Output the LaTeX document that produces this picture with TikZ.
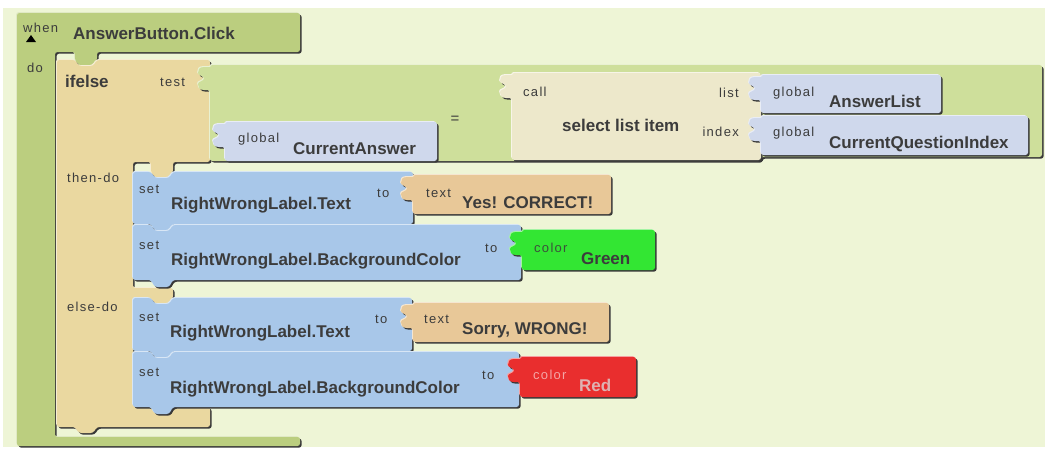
\documentclass[tikz,border=0pt]{standalone}
\usepackage{fontspec}
\setmainfont{Liberation Sans}
\newfontfamily\smallf[LetterSpace=10]{Liberation Sans}

\definecolor{canvas}{RGB}{238,245,214}
\definecolor{evgreen}{RGB}{187,206,127}
\definecolor{eqgreen}{RGB}{206,223,155}
\definecolor{iftan}{RGB}{234,216,160}
\definecolor{setblue}{RGB}{168,199,233}
\definecolor{globlue}{RGB}{207,216,236}
\definecolor{listcream}{RGB}{237,232,203}
\definecolor{txttan}{RGB}{232,200,152}
\definecolor{brightgreen}{RGB}{51,230,51}
\definecolor{brightred}{RGB}{233,46,46}
\definecolor{ink}{RGB}{60,60,60}
\definecolor{pinklbl}{RGB}{244,165,165}
\definecolor{redlbl}{RGB}{222,178,178}
\definecolor{greenlbl}{RGB}{60,80,60}

% bevelled block: dark lower-right edge, light upper-left edge, then the body
\newcommand\bfill[2]{%
  \fill[rounded corners=2.5pt, black!78, shift={(1.6pt,-1.6pt)}] #2;
  \fill[rounded corners=2.5pt, #1!45!white, shift={(-0.9pt,0.9pt)}] #2;
  \fill[rounded corners=2.5pt, #1] #2;
}
% puzzle plug on the left edge of a value block (left x, top y)
\newcommand\plugpath[2]{-- ({#1},{#2+25}) [sharp corners] -- ({#1-6},{#2+25})
  .. controls ({#1-11},{#2+25}) and ({#1-12},{#2+22}) .. ({#1-12},{#2+19})
  .. controls ({#1-12},{#2+16}) and ({#1-6},{#2+16.5}) .. ({#1-6},{#2+13.5})
  .. controls ({#1-6},{#2+10.5}) and ({#1-12},{#2+11}) .. ({#1-12},{#2+8})
  .. controls ({#1-12},{#2+5}) and ({#1-11},{#2+2}) .. ({#1-6},{#2+2})}
% value block: left, top, right, bottom
\newcommand\valpath[4]{({#1},{#2+2}) -- ({#1},{#2}) -- ({#3},{#2}) -- ({#3},{#4}) -- ({#1},{#4}) \plugpath{#1}{#2} -- cycle}
% statement block with top notch and bottom tab: left, top, right, bottom
\newcommand\stmtpath[4]{({#1},{#2}) -- ({#1+18},{#2}) -- ({#1+22},{#2+6}) -- ({#1+36},{#2+6}) -- ({#1+40},{#2}) -- ({#3},{#2}) -- ({#3},{#4}) -- ({#1+40},{#4}) -- ({#1+36},{#4+7}) -- ({#1+22},{#4+7}) -- ({#1+18},{#4}) -- ({#1},{#4}) -- cycle}

\tikzset{
  lsm/.style={font=\smallf\fontsize{13}{13}\selectfont, text=ink, inner sep=0pt, anchor=base west},
  lbig/.style={font=\bfseries\fontsize{17}{17}\selectfont, text=ink, inner sep=0pt, anchor=base west},
}

\begin{document}
\begin{tikzpicture}[x=1pt,y=-1pt]
\useasboundingbox (0,0) rectangle (1047,450);
\fill[white] (0,0) rectangle (1047,450);
\fill[canvas] (3,8) rectangle (1045,447);

% event handler
\bfill{evgreen}{(17,13) -- (300,13) -- (300,52) -- (97,52) -- (97,60) -- (93,66) -- (79,66) -- (75,60) -- (75,52) -- (55,52) -- (55,437) -- (300,437) -- (300,446) -- (17,446) -- cycle}
\fill[black] (26,42) -- (36,42) -- (31,35) -- cycle;

% ifelse
\bfill{iftan}{(57,60) -- (75,60) -- (79,66) -- (93,66) -- (97,60) -- (210,60) -- (210,162) -- (173,162) -- (173,172) -- (169,178) -- (155,178) -- (151,172) -- (151,162) -- (133,162) -- (133,288) -- (173,288) -- (173,298) -- (169,304) -- (155,304) -- (151,298) -- (133,298) -- (133,407) -- (210,407) -- (210,427) -- (97,427) -- (93,433) -- (79,433) -- (75,427) -- (57,427) -- cycle}

% test: equality
\bfill{eqgreen}{(210,67) -- (210,65) -- (1042,65) -- (1042,157) -- (761,157) -- (761,161) -- (210,161) \plugpath{210}{65} -- cycle}
\bfill{globlue}{\valpath{225}{122}{437}{161}}
\bfill{listcream}{\valpath{512}{73}{761}{160}}
\bfill{globlue}{\valpath{761}{75}{941}{113}}
\bfill{globlue}{\valpath{761}{116}{1028}{155}}

% then-do
\bfill{setblue}{\stmtpath{133}{172}{413}{224}}
\bfill{txttan}{\valpath{413}{175}{611}{214}}
\bfill{setblue}{\stmtpath{133}{225}{521}{280}}
\bfill{brightgreen}{\valpath{522}{230}{655}{270}}

% else-do
\bfill{setblue}{\stmtpath{133}{298}{412}{351}}
\bfill{txttan}{\valpath{413}{303}{609}{342}}
\bfill{setblue}{\stmtpath{133}{352}{519}{407}}
\bfill{brightred}{\valpath{520}{357}{636}{397}}

% labels
\node[lsm] (whenL) at (23,32) {when};
\node[lbig] (evt) at (73,39) {AnswerButton.Click};
\node[lsm] (doL) at (27,72) {do};
\node[lbig] (ifL) at (65,87) {ifelse};
\node[lsm] (testL) at (160,86) {test};
\node[lsm] (g1) at (238,142) {global};
\node[lbig] (ca) at (293,154) {CurrentAnswer};
\node[font=\fontsize{15}{15}\selectfont, text=ink, inner sep=0pt] (eq) at (455,120) {=};
\node[lsm] (callL) at (523,96) {call};
\node[lbig] (sli) at (562,131) {select list item};
\node[lsm, anchor=base east] (listL) at (739,97) {list};
\node[lsm] (g2) at (773,96) {global};
\node[lbig] (al) at (829,107) {AnswerList};
\node[lsm, anchor=base east] (idxL) at (739,136) {index};
\node[lsm] (g3) at (773,136) {global};
\node[lbig] (cqi) at (829,148) {CurrentQuestionIndex};

\node[lsm] (thenL) at (67,182) {then-do};
\node[lsm] (set1) at (139,193) {set};
\node[lbig] (rw1) at (171,209) {RightWrongLabel.Text};
\node[lsm] (to1) at (377,197) {to};
\node[lsm] (tx1) at (426,197) {text};
\node[lbig] (yes) at (462,208) {Yes! CORRECT!};
\node[lsm] (set2) at (139,249) {set};
\node[lbig] (rw2) at (171,265) {RightWrongLabel.BackgroundColor};
\node[lsm] (to2) at (485,252) {to};
\node[lsm, text=greenlbl] (c1) at (534,252) {color};
\node[lbig] (grn) at (581,264) {Green};

\node[lsm] (elseL) at (67,311) {else-do};
\node[lsm] (set3) at (139,321) {set};
\node[lbig] (rw3) at (170,337) {RightWrongLabel.Text};
\node[lsm] (to3) at (375,323) {to};
\node[lsm] (tx3) at (424,323) {text};
\node[lbig] (sorry) at (462,334) {Sorry, WRONG!};
\node[lsm] (set4) at (139,376) {set};
\node[lbig] (rw4) at (170,393) {RightWrongLabel.BackgroundColor};
\node[lsm] (to4) at (482,379) {to};
\node[lsm, text=pinklbl] (c2) at (533,379) {color};
\node[lbig, text=redlbl] (red) at (579,391) {Red};
\end{tikzpicture}
\end{document}
